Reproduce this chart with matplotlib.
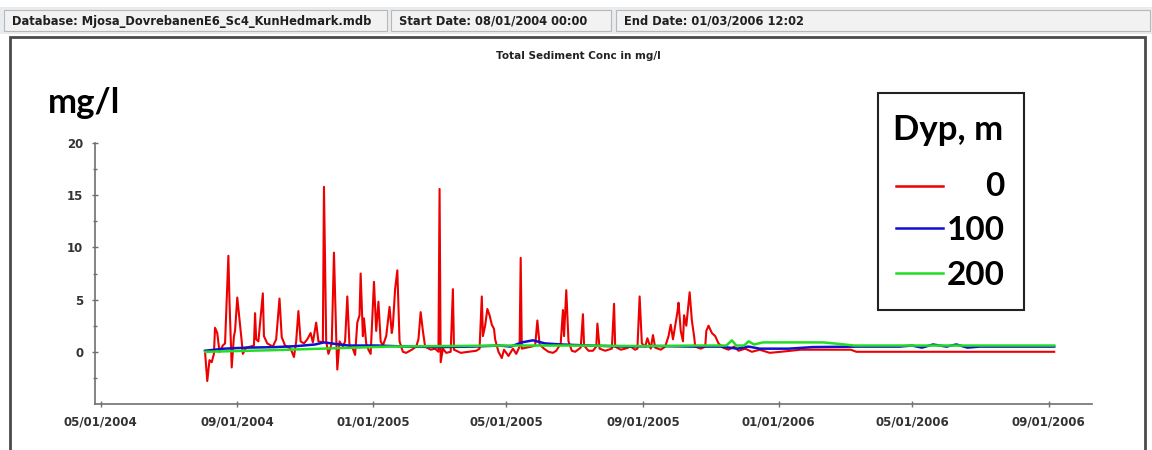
import matplotlib
matplotlib.use("Agg")
import matplotlib.pyplot as plt
import matplotlib.dates as mdates
from matplotlib.patches import Rectangle
from matplotlib.lines import Line2D
import pandas as pd

# ---------------- data ----------------
red_dates = [
    "2004-08-03", "2004-08-05", "2004-08-07", "2004-08-09", "2004-08-11", "2004-08-12", "2004-08-14",
    "2004-08-16", "2004-08-19", "2004-08-21", "2004-08-24", "2004-08-25", "2004-08-27", "2004-08-29",
    "2004-08-30", "2004-09-01", "2004-09-03", "2004-09-05", "2004-09-06", "2004-09-09", "2004-09-13",
    "2004-09-16", "2004-09-17", "2004-09-18", "2004-09-20", "2004-09-24", "2004-09-25", "2004-09-28",
    "2004-10-03", "2004-10-06", "2004-10-09", "2004-10-11", "2004-10-14", "2004-10-19", "2004-10-22",
    "2004-10-24", "2004-10-26", "2004-10-28", "2004-10-31", "2004-11-03", "2004-11-06", "2004-11-08",
    "2004-11-11", "2004-11-13", "2004-11-17", "2004-11-18", "2004-11-20", "2004-11-22", "2004-11-25",
    "2004-11-27", "2004-11-29", "2004-11-30", "2004-12-02", "2004-12-05", "2004-12-07", "2004-12-09",
    "2004-12-11", "2004-12-14", "2004-12-16", "2004-12-18", "2004-12-20", "2004-12-21", "2004-12-23",
    "2004-12-24", "2004-12-26", "2004-12-28", "2004-12-30", "2005-01-02", "2005-01-04", "2005-01-06",
    "2005-01-08", "2005-01-10", "2005-01-13", "2005-01-16", "2005-01-18", "2005-01-19", "2005-01-21",
    "2005-01-23", "2005-01-25", "2005-01-28", "2005-01-31", "2005-02-05", "2005-02-09", "2005-02-11",
    "2005-02-13", "2005-02-15", "2005-02-17", "2005-02-22", "2005-02-26", "2005-03-01", "2005-03-02",
    "2005-03-03", "2005-03-05", "2005-03-08", "2005-03-12", "2005-03-14", "2005-03-15", "2005-03-21",
    "2005-03-28", "2005-04-04", "2005-04-07", "2005-04-09", "2005-04-10", "2005-04-12", "2005-04-14",
    "2005-04-16", "2005-04-18", "2005-04-20", "2005-04-21", "2005-04-24", "2005-04-27", "2005-04-29",
    "2005-05-03", "2005-05-07", "2005-05-10", "2005-05-13", "2005-05-14", "2005-05-15", "2005-05-19",
    "2005-05-24", "2005-05-27", "2005-05-29", "2005-05-31", "2005-06-04", "2005-06-08", "2005-06-12",
    "2005-06-15", "2005-06-19", "2005-06-21", "2005-06-22", "2005-06-24", "2005-06-26", "2005-06-29",
    "2005-07-02", "2005-07-07", "2005-07-09", "2005-07-10", "2005-07-14", "2005-07-18", "2005-07-21",
    "2005-07-22", "2005-07-24", "2005-07-29", "2005-08-04", "2005-08-06", "2005-08-07", "2005-08-12",
    "2005-08-16", "2005-08-21", "2005-08-25", "2005-08-27", "2005-08-29", "2005-08-31", "2005-09-03",
    "2005-09-05", "2005-09-08", "2005-09-10", "2005-09-12", "2005-09-17", "2005-09-21", "2005-09-24",
    "2005-09-26", "2005-09-28", "2005-09-30", "2005-10-02", "2005-10-03", "2005-10-05", "2005-10-07",
    "2005-10-08", "2005-10-10", "2005-10-13", "2005-10-15", "2005-10-17", "2005-10-18", "2005-10-23",
    "2005-10-27", "2005-10-28", "2005-10-30", "2005-11-02", "2005-11-05", "2005-11-08", "2005-11-12",
    "2005-11-17", "2005-11-22", "2005-11-26", "2005-12-02", "2005-12-08", "2005-12-15", "2005-12-24",
    "2006-01-03", "2006-01-21", "2006-03-07", "2006-03-12", "2006-09-06",
]
red_values = [
    0.0, -2.8, -0.8, -1.0, -0.2, 2.3, 1.8,
    0.0, 0.6, 0.8, 9.2, 4.8, -1.5, 1.5,
    2.0, 5.2, 3.1, 1.0, -0.2, 0.4, 0.5,
    0.6, 3.7, 1.2, 1.0, 5.6, 1.5, 0.8,
    0.5, 1.2, 5.1, 1.4, 0.6, 0.3, -0.5,
    1.0, 3.9, 1.0, 0.8, 1.2, 1.8, 0.9,
    2.8, 1.0, 0.9, 15.8, 1.0, -0.2, 0.8,
    9.5, 1.5, -1.7, 1.0, 0.5, 1.0, 5.3,
    0.5, 0.3, -0.3, 2.8, 3.5, 7.5, 1.5,
    3.2, 0.8, 0.2, -0.2, 6.7, 2.0, 4.8,
    1.0, 0.6, 1.5, 4.3, 1.8, 2.5, 6.0,
    7.8, 1.0, 0.0, -0.1, 0.2, 0.5, 1.2,
    3.8, 2.0, 0.5, 0.2, 0.3, 0.0, 15.6,
    -1.0, 0.3, -0.1, 0.0, 6.0, 0.2, -0.1,
    0.0, 0.1, 0.3, 5.3, 1.5, 2.5, 4.1,
    3.5, 2.6, 2.2, 1.2, 0.0, -0.6, 0.2,
    -0.4, 0.3, -0.2, 0.5, 9.0, 0.3, 0.4,
    0.5, 0.6, 3.0, 0.7, 0.3, 0.0, -0.1,
    0.1, 0.8, 4.0, 1.5, 5.9, 1.0, 0.1,
    0.0, 0.4, 3.6, 0.6, 0.1, 0.1, 0.5,
    2.7, 0.3, 0.1, 0.3, 4.6, 0.5, 0.2,
    0.3, 0.5, 0.2, 0.3, 5.3, 0.8, 0.5,
    1.3, 0.3, 1.6, 0.4, 0.2, 0.5, 1.5,
    2.6, 1.2, 2.5, 3.8, 4.7, 2.0, 1.0,
    3.5, 2.5, 5.7, 3.0, 1.5, 0.5, 0.3,
    0.5, 2.0, 2.5, 1.8, 1.5, 0.8, 0.4,
    0.2, 0.5, 0.1, 0.3, 0.0, 0.2, -0.1,
    0.0, 0.2, 0.2, 0.0, 0.0,
]

blue_dates = [
    "2004-08-03", "2004-08-20", "2004-09-10", "2004-10-05", "2004-10-25", "2004-11-10", "2004-11-18",
    "2004-11-25", "2004-12-10", "2005-01-05", "2005-02-01", "2005-03-01", "2005-04-01", "2005-04-25",
    "2005-05-05", "2005-05-15", "2005-05-25", "2005-06-05", "2005-06-20", "2005-07-15", "2005-08-15",
    "2005-09-15", "2005-10-15", "2005-11-10", "2005-11-25", "2005-12-05", "2005-12-15", "2006-01-10",
    "2006-02-01", "2006-03-15", "2006-04-20", "2006-05-01", "2006-05-10", "2006-05-20", "2006-06-01",
    "2006-06-10", "2006-06-20", "2006-07-01", "2006-09-06",
]
blue_values = [
    0.1, 0.3, 0.4, 0.45, 0.55, 0.7, 0.9,
    0.8, 0.6, 0.6, 0.5, 0.45, 0.5, 0.6,
    0.5, 0.9, 1.1, 0.8, 0.7, 0.6, 0.5,
    0.55, 0.5, 0.5, 0.3, 0.5, 0.3, 0.3,
    0.45, 0.5, 0.5, 0.6, 0.4, 0.7, 0.5,
    0.7, 0.4, 0.5, 0.5,
]

green_dates = [
    "2004-08-03", "2004-10-01", "2004-12-01", "2005-01-15", "2005-03-01", "2005-05-01", "2005-07-01",
    "2005-09-01", "2005-10-20", "2005-11-15", "2005-11-20", "2005-11-24", "2005-12-01", "2005-12-05",
    "2005-12-10", "2005-12-18", "2006-02-10", "2006-02-25", "2006-03-10", "2006-09-06",
]
green_values = [
    0.0, 0.15, 0.35, 0.5, 0.55, 0.6, 0.6,
    0.55, 0.6, 0.6, 1.1, 0.6, 0.6, 1.0,
    0.7, 0.9, 0.9, 0.75, 0.6, 0.6,
]

series_labels = ["0", "100", "200"]
series_colors = ["#ee0000", "#1010d0", "#22dd22"]
legend_title = "Dyp, m"
chart_title = "Total Sediment Conc in mg/l"
unit_label = "mg/l"
header_texts = [
    "Database: Mjosa_DovrebanenE6_Sc4_KunHedmark.mdb",
    "Start Date: 08/01/2004 00:00",
    "End Date: 01/03/2006 12:02",
]
y_ticks = [0, 5, 10, 15, 20]

# ---------------- figure ----------------
W, H = 1152, 450
fig = plt.figure(figsize=(W / 100, H / 100), dpi=100)
fig.patch.set_facecolor("white")


def fx(px):
    return px / W


def fy(py):
    return 1 - py / H


# header bar
fig.patches.append(Rectangle((fx(0), fy(34)), 1, (34 - 7) / H, transform=fig.transFigure,
                             facecolor="#e9ecef", edgecolor="none", zorder=0))
cells = [(4, 387), (391, 611), (616, 1150)]
for (x0, x1), txt in zip(cells, header_texts):
    fig.patches.append(Rectangle((fx(x0), fy(31)), (x1 - x0) / W, 21 / H, transform=fig.transFigure,
                                 facecolor="#f2f2f2", edgecolor="#b8b8b8", linewidth=0.8, zorder=1))
    fig.text(fx(x0 + 8), fy(21), txt, fontsize=8.3, fontweight="bold", color="#202020",
             va="center", ha="left", family="DejaVu Sans", zorder=2)

# chart panel border
fig.patches.append(Rectangle((fx(10), fy(455)), (1145 - 10) / W, (455 - 37) / H, transform=fig.transFigure,
                             facecolor="white", edgecolor="#4a4a4a", linewidth=2, zorder=0.5))

ax = fig.add_axes([fx(95), fy(404), fx(1092) - fx(95), (404 - 143) / H])
ax.set_zorder(2)
ax.set_facecolor("none")

rd = pd.to_datetime(red_dates)
bd = pd.to_datetime(blue_dates)
gd = pd.to_datetime(green_dates)
ax.plot(rd, red_values, color=series_colors[0], lw=1.5, zorder=3)
ax.plot(bd, blue_values, color=series_colors[1], lw=1.8, zorder=4)
ax.plot(gd, green_values, color=series_colors[2], lw=1.8, zorder=5)

ax.set_xlim(pd.Timestamp("2004-04-26"), pd.Timestamp("2006-10-10"))
ax.set_ylim(-5, 20)
ax.set_yticks(y_ticks)
ax.set_yticks([-2.5, 2.5, 7.5, 12.5, 17.5], minor=True)
ax.xaxis.set_major_locator(mdates.MonthLocator(bymonth=[1, 5, 9]))
ax.xaxis.set_major_formatter(mdates.DateFormatter("%m/%d/%Y"))

for s in ["top", "right"]:
    ax.spines[s].set_visible(False)
for s in ["left", "bottom"]:
    ax.spines[s].set_color("#707070")
    ax.spines[s].set_linewidth(1.2)

ax.tick_params(axis="both", which="major", direction="inout", length=5, width=1, color="#707070",
               labelsize=8.5, labelcolor="#333333", pad=6)
ax.tick_params(axis="y", which="minor", direction="inout", length=3, width=1, color="#707070")
for lab in ax.get_xticklabels() + ax.get_yticklabels():
    lab.set_fontweight("bold")

fig.text(fx(578), fy(56), chart_title, fontsize=7.5, fontweight="bold", color="#222222",
         ha="center", va="center")
fig.text(fx(48), fy(113), unit_label, fontsize=25, fontweight="bold", family="Lato",
         ha="left", va="baseline", color="black")

# legend box
fig.patches.append(Rectangle((fx(878), fy(310)), (1024 - 878) / W, (310 - 93) / H, transform=fig.transFigure,
                             facecolor="white", edgecolor="#222222", linewidth=1.5, zorder=6))
fig.text(fx(893), fy(140), legend_title, fontsize=25, fontweight="bold", family="Lato",
         ha="left", va="baseline", zorder=7)
leg_rows = [(186, 196), (228, 240), (273, 285)]
for (ly, by), lab, col in zip(leg_rows, series_labels, series_colors):
    fig.lines.append(Line2D([fx(896), fx(943)], [fy(ly), fy(ly)], transform=fig.transFigure,
                            color=col, lw=1.8, zorder=7))
    fig.text(fx(1005), fy(by), lab, fontsize=24, fontweight="bold", family="Lato",
             ha="right", va="baseline", zorder=7)

fig.savefig("out.png", dpi=100)
